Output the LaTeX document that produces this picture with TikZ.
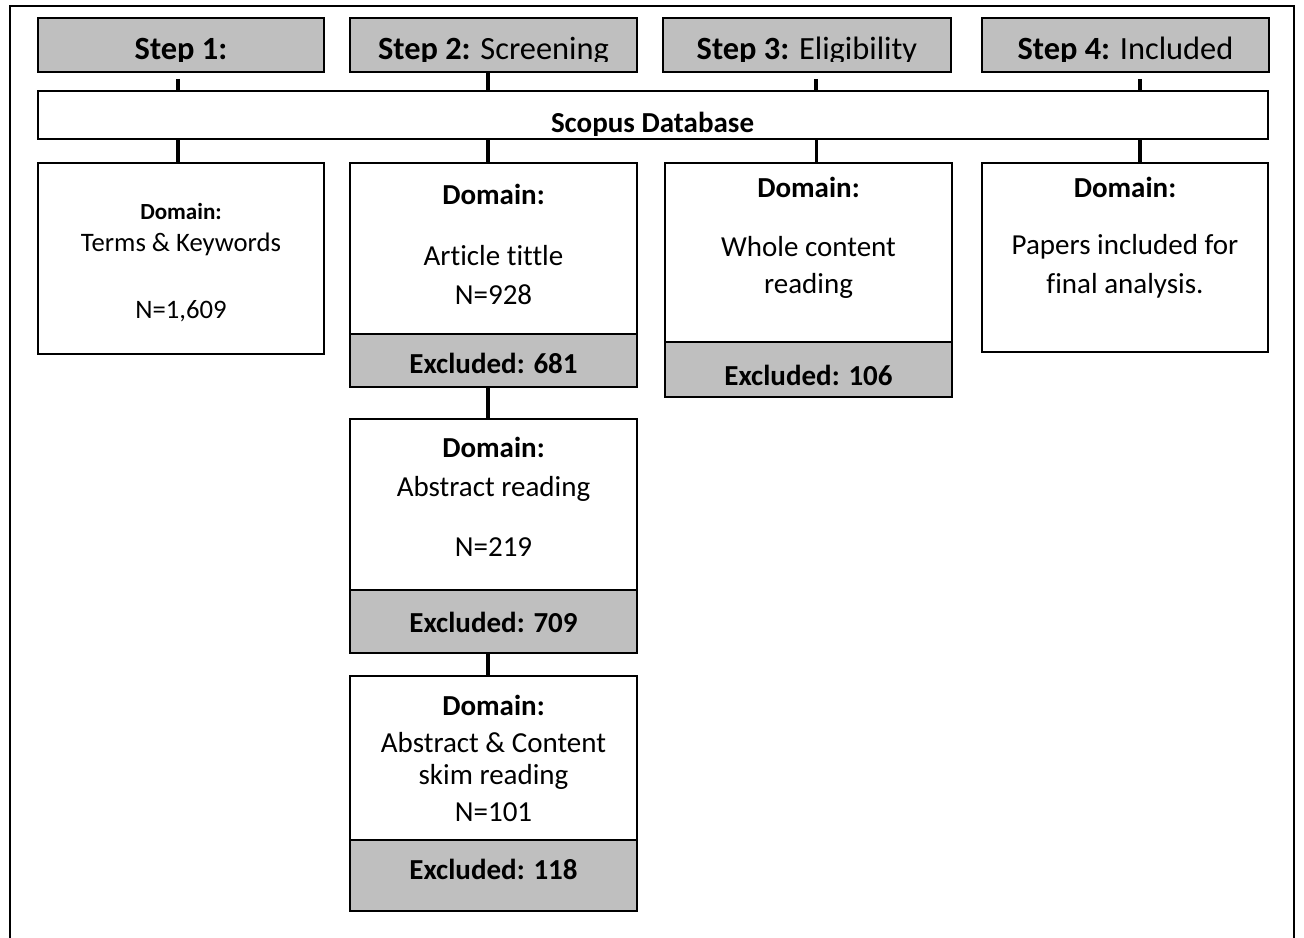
\documentclass[tikz,border=0pt]{standalone}
\usepackage{fontspec}
\setmainfont{Carlito}[Ligatures={NoCommon,NoContextual}]
\definecolor{boxgray}{HTML}{BFBFBF}
\newcommand\bx[6]{\node[#2, minimum width={(#5-#3)*0.75pt}, minimum height={(#6-#4)*0.75pt}] (#1) at (#3,#4) {};}
\begin{document}
\begin{tikzpicture}[x=0.75pt,y=-0.75pt,
  box/.style={draw=black, line width=1.4pt, fill=white, inner sep=0pt, outer sep=0pt, anchor=north west},
  graybox/.style={box, fill=boxgray},
  conn/.style={line width=2.8pt},
  txt/.style={anchor=base, inner sep=0pt, font=\fontsize{21.75}{26}\selectfont},
  steptxt/.style={txt, font=\fontsize{24.3}{29}\selectfont},
  smalltxt/.style={txt, font=\fontsize{20}{24}\selectfont},
  tinytxt/.style={txt, font=\fontsize{17.3}{21}\selectfont}]
\useasboundingbox (0,0) rectangle (1304,938);
\fill[white] (0,0) rectangle (1304,938);
% outer frame (open at the bottom)
\draw[line width=1.5pt] (10,950) -- (10,6) -- (1294,6) -- (1294,950);
% boxes
\bx{step1}{graybox}{38}{18}{324}{72}
\bx{step2}{graybox}{350}{18}{637}{72}
\bx{step3}{graybox}{663}{18}{951}{72}
\bx{step4}{graybox}{982}{18}{1269}{72}
\bx{scopus}{box}{38}{91}{1268}{139}
\bx{d1}{box}{38}{163}{324}{354}
\bx{d2}{box}{350}{163}{637}{334}
\bx{e2}{graybox}{350}{334}{637}{387}
\bx{d3}{box}{665}{163}{952}{342}
\bx{e3}{graybox}{665}{342}{952}{397}
\bx{d4}{box}{982}{163}{1268}{352}
\bx{d5}{box}{350}{419}{637}{590}
\bx{e5}{graybox}{350}{590}{637}{653}
\bx{d6}{box}{350}{676}{637}{840}
\bx{e6}{graybox}{350}{840}{637}{911}
% connectors
\draw[conn] ([xshift=-2.25pt,yshift=-5.25pt]step1.south) -- ([xshift=-2.25pt]step1.south |- scopus.north);
\draw[conn] ([xshift=-4pt]step2.south) -- ([xshift=-4pt]step2.south |- scopus.north);
\draw[conn] ([xshift=6.5pt,yshift=-5.25pt]step3.south) -- ([xshift=6.5pt]step3.south |- scopus.north);
\draw[conn] ([xshift=11pt,yshift=-5.25pt]step4.south) -- ([xshift=11pt]step4.south |- scopus.north);
\draw[conn] ([xshift=-2.25pt]d1.north |- scopus.south) -- ([xshift=-2.25pt]d1.north);
\draw[conn] ([xshift=-4pt]d2.north |- scopus.south) -- ([xshift=-4pt]d2.north);
\draw[conn] ([xshift=6pt]d3.north |- scopus.south) -- ([xshift=6pt]d3.north);
\draw[conn] ([xshift=11pt]d4.north |- scopus.south) -- ([xshift=11pt]d4.north);
\draw[conn] ([xshift=-4pt]e2.south) -- ([xshift=-4pt]d5.north);
\draw[conn] ([xshift=-4pt]e5.south) -- ([xshift=-4pt]d6.north);
% step texts (clipped just below the baseline, as in the original)
\begin{scope}
\clip (20,19) rectangle (1280,61.5);
\node[steptxt] (s1t) at (181,59.5) {\textbf{Step 1:}};
\node[steptxt] (s2t) at (493.5,59.5) {\textbf{Step 2:} Screening};
\node[steptxt] (s3t) at (807,59.5) {\textbf{Step 3:} Eligibility};
\node[steptxt] (s4t) at (1125.5,59.5) {\textbf{Step 4:} Included};
\end{scope}
\begin{scope}
\clip (40,92) rectangle (1266,135.5);
\node[txt] (sct) at (652.5,133) {\textbf{Scopus Database}};
\end{scope}
% box 1
\node[tinytxt] (d1a) at (181,220) {\textbf{Domain:}};
\node[smalltxt] (d1b) at (181,252) {Terms \& Keywords};
\node[smalltxt] (d1c) at (181,318) {N=1,609};
% box 2
\node[txt] (d2a) at (493.5,205) {\textbf{Domain:}};
\node[txt] (d2b) at (493.5,266) {Article tittle};
\node[txt] (d2c) at (493.5,305) {N=928};
\node[txt] (e2t) at (493.5,373) {\textbf{Excluded: 681}};
% box 3
\node[txt] (d3a) at (808.5,198) {\textbf{Domain:}};
\node[txt] (d3b) at (808.5,257) {Whole content};
\node[txt] (d3c) at (808.5,293) {reading};
\node[txt] (e3t) at (808.5,385) {\textbf{Excluded: 106}};
% box 4
\node[txt] (d4a) at (1125,198) {\textbf{Domain:}};
\node[txt] (d4b) at (1125,255) {Papers included for};
\node[txt] (d4c) at (1125,293) {final analysis.};
% box 5
\node[txt] (d5a) at (493.5,457) {\textbf{Domain:}};
\node[txt] (d5b) at (493.5,496) {Abstract reading};
\node[txt] (d5c) at (493.5,556) {N=219};
\node[txt] (e5t) at (493.5,632) {\textbf{Excluded: 709}};
% box 6
\node[txt] (d6a) at (493.5,715) {\textbf{Domain:}};
\node[txt] (d6b) at (493.5,752) {Abstract \& Content};
\node[txt] (d6c) at (493.5,784) {skim reading};
\node[txt] (d6d) at (493.5,821) {N=101};
\node[txt] (e6t) at (493.5,879) {\textbf{Excluded: 118}};
\end{tikzpicture}
\end{document}
